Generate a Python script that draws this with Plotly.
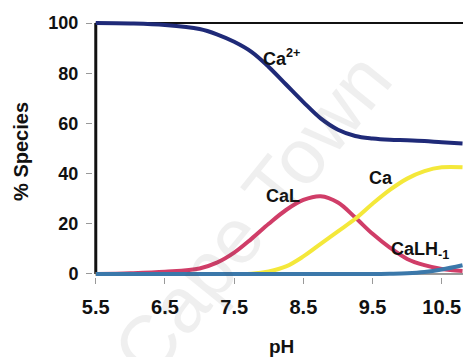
import plotly.graph_objects as go

# Calcium speciation versus pH
ph = [5.5, 6.0, 6.5, 7.0, 7.25, 7.5, 7.75, 8.0, 8.25, 8.5, 8.75, 9.0,
      9.25, 9.5, 9.75, 10.0, 10.25, 10.5, 10.8]
ca2 = [100, 99.8, 99.2, 97.6, 95.5, 92.5, 88.5, 82.5, 75.5, 68.5, 62, 57.5,
       55, 54, 53.5, 53.3, 53, 52.5, 52]
cal = [0, 0.3, 0.9, 2.2, 4.5, 8.5, 14, 20, 25.5, 29.5, 31, 28.5,
       22.5, 16, 10.5, 6, 3.5, 2, 1.2]
ca_other = [0, 0, 0, 0, 0, 0, 0.1, 1, 3, 7, 12, 17,
            22, 28, 33.5, 38, 41, 42.5, 42.5]
calh = [0, 0, 0, 0, 0, 0, 0, 0, 0, 0, 0, 0,
        0, 0, 0.1, 0.3, 0.8, 1.8, 3.5]

x_ticks = [5.5, 6.5, 7.5, 8.5, 9.5, 10.5]
x_ticklabels = ["5.5", "6.5", "7.5", "8.5", "9.5", "10.5"]
y_ticks = [0, 20, 40, 60, 80, 100]
y_ticklabels = ["0", "20", "40", "60", "80", "100"]

species = [
    ("Ca2+", ca2, "#1f2a78"),
    ("CaL", cal, "#d03d68"),
    ("Ca", ca_other, "#f4e83a"),
    ("CaLH-1", calh, "#3b78aa"),
]

FONT = "Liberation Sans, Arial, sans-serif"
INK = "#111111"

fig = go.Figure()
for name, vals, col in species:
    fig.add_trace(go.Scatter(
        x=ph, y=vals, mode="lines", name=name,
        line=dict(color=col, width=4, shape="spline", smoothing=1.0),
        showlegend=False, hoverinfo="skip",
    ))

# species labels next to their curves
labels = [
    (8.19, 86.3, "Ca<sup>2+</sup>"),
    (8.2, 31, "CaL"),
    (9.62, 38.2, "Ca"),
    (10.18, 9.5, "CaLH<sub>-1</sub>"),
]
for lx, ly, txt in labels:
    fig.add_annotation(x=lx, y=ly, text="<b>" + txt + "</b>", showarrow=False,
                       font=dict(family=FONT, size=18, color=INK))

# frame: left axis, top border and zero line
fig.add_shape(type="line", x0=5.5, x1=5.5, y0=0, y1=100, xref="x", yref="y",
              line=dict(color=INK, width=3), layer="below")
fig.add_shape(type="line", x0=5.5, x1=10.9, y0=100, y1=100, xref="x", yref="y",
              line=dict(color=INK, width=2), layer="below")
fig.add_shape(type="line", x0=5.5, x1=10.9, y0=0, y1=0, xref="x", yref="y",
              line=dict(color="#333333", width=1), layer="below")

# axis titles
fig.add_annotation(xref="paper", yref="paper", x=-0.195, y=0.49, xanchor="center",
                   yanchor="middle", text="<b>% Species</b>", textangle=-90,
                   showarrow=False, font=dict(family=FONT, size=20, color=INK))
fig.add_annotation(xref="paper", yref="paper", x=0.51, y=-0.27, xanchor="center",
                   yanchor="middle", text="<b>pH</b>",
                   showarrow=False, font=dict(family=FONT, size=19, color=INK))

# faint watermark
fig.add_annotation(xref="paper", yref="paper", x=0.43, y=0.24, xanchor="center",
                   yanchor="middle", text="Cape Town",
                   textangle=-51, showarrow=False, opacity=0.09,
                   font=dict(family=FONT, size=78, color="#555555"))

fig.update_xaxes(
    range=[5.46, 10.807], tickvals=x_ticks,
    ticktext=["<b>" + t + "</b>" for t in x_ticklabels],
    ticks="outside", ticklen=6, tickcolor="#999999", tickwidth=1,
    showgrid=False, zeroline=False, showline=False, ticklabelstandoff=6,
    tickfont=dict(family=FONT, size=20, color=INK),
)
fig.update_yaxes(
    range=[-1.2, 101.2], tickvals=y_ticks,
    ticktext=["<b>" + t + "</b>" for t in y_ticklabels],
    ticks="outside", ticklen=6, tickcolor="#999999", tickwidth=1,
    showgrid=False, zeroline=False, showline=False, ticklabelstandoff=4,
    tickfont=dict(family=FONT, size=18, color=INK),
)
fig.update_layout(
    width=463, height=357,
    margin=dict(l=93, r=0, t=20, b=80),
    plot_bgcolor="white", paper_bgcolor="white",
)
fig.write_html("out.html")
